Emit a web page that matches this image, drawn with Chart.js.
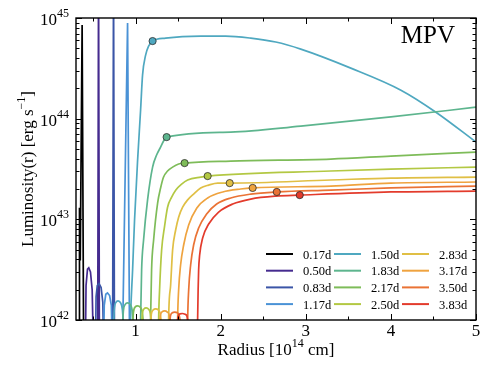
<!DOCTYPE html>
<html lang="en">
<head>
<meta charset="UTF-8">
<title>MPV luminosity profiles</title>
<script src="https://cdn.jsdelivr.net/npm/chart.js@4.4.1/dist/chart.umd.min.js"></script>
<style>
  html, body { margin: 0; padding: 0; background: #fff; }
  #wrap { width: 501px; height: 376px; }
</style>
</head>
<body>
<div id="wrap"><canvas id="lumChart" width="501" height="376"></canvas></div>
<script>
// radius in units of 1e14 cm, luminosity in erg/s
const labels = ['0.17d', '0.50d', '0.83d', '1.17d', '1.50d', '1.83d',
                '2.17d', '2.50d', '2.83d', '3.17d', '3.50d', '3.83d'];
const colors = ['#000000', '#452b8f', '#3b55a7', '#4a92d6', '#4fa8c0', '#5db58e',
                '#7ebc59', '#b3c843', '#e0bf45', '#efa33f', '#ea7335', '#e33b2c'];

const r017 = [0.338, 0.341, 0.350, 0.372, 0.390];
const L017 = [5e41, 1.3e43, 3.9e42, 8.5e44, 5e41];

const r050 = [0.410, 0.418, 0.435, 0.450, 0.470, 0.490, 0.505, 0.555, 0.565, 0.575];
const L050 = [5e41, 2.2e42, 3.2e42, 3.3e42, 3.0e42, 2.0e42, 5e41, 5e41, 3e45, 5e41];

const r083 = [0.528, 0.536, 0.550, 0.570, 0.595, 0.615, 0.625, 0.730, 0.741, 0.752];
const L083 = [5e41, 1.7e42, 2.2e42, 2.3e42, 2.1e42, 1.5e42, 5e41, 5e41, 3e45, 5e41];

const r117 = [0.623, 0.632, 0.650, 0.670, 0.695, 0.715, 0.728, 0.845, 0.906, 0.930];
const L117 = [5e41, 1.4e42, 1.8e42, 1.86e42, 1.75e42, 1.4e42, 5e41, 5e41, 8.9e44, 5e41];

const r150 = [0.741, 0.750, 0.770, 0.794, 0.824, 0.845, 0.859, 0.935, 0.941, 0.965, 0.988,
              1.024, 1.059, 1.082, 1.118, 1.153, 1.200, 1.353, 1.765, 2.059, 2.353, 2.647,
              2.941, 3.529, 4.118, 4.529, 5.000];
const L150 = [9e41, 1.27e42, 1.5e42, 1.55e42, 1.48e42, 1.27e42, 9e41, 5e41, 1e42, 3.14e42, 9.84e42,
              3.88e43, 1.22e44, 2.71e44, 4.28e44, 5.26e44, 5.9e44, 6.31e44, 6.61e44, 6.61e44, 6.31e44, 5.77e44,
              4.91e44, 3.18e44, 1.92e44, 1.16e44, 5.86e43];

const r183 = [0.847, 0.857, 0.879, 0.905, 0.937, 0.961, 0.976, 1.055, 1.059, 1.071, 1.094,
              1.141, 1.200, 1.247, 1.294, 1.329, 1.365, 2.118, 2.941, 4.000, 5.000];
const L183 = [9e41, 1.24e42, 1.43e42, 1.48e42, 1.42e42, 1.24e42, 9e41, 5e41, 1e42, 3.14e42, 6.23e42,
              1.56e43, 3.3e43, 4.35e43, 5.22e43, 6.0e43, 6.56e43, 7.36e43, 8.45e43, 1.04e44, 1.3e44];

const r217 = [0.965, 0.975, 0.997, 1.023, 1.055, 1.079, 1.094, 1.172, 1.176, 1.188, 1.212,
              1.259, 1.294, 1.329, 1.376, 1.435, 1.506, 1.576, 2.118, 3.294, 4.000, 5.000];
const L217 = [9e41, 1.19e42, 1.35e42, 1.38e42, 1.34e42, 1.19e42, 9e41, 5e41, 1e42, 3.14e42, 6.23e42,
              1.45e43, 2.05e43, 2.63e43, 3.02e43, 3.3e43, 3.54e43, 3.62e43, 3.79e43, 3.97e43, 4.25e43, 4.66e43];

const r250 = [1.071, 1.080, 1.100, 1.124, 1.153, 1.174, 1.188, 1.267, 1.271, 1.282, 1.306,
              1.341, 1.376, 1.424, 1.471, 1.541, 1.612, 1.765, 1.847, 3.294, 4.000, 5.000];
const L250 = [9e41, 1.16e42, 1.29e42, 1.32e42, 1.28e42, 1.16e42, 9e41, 5e41, 1e42, 1.99e42, 4.95e42,
              8.58e42, 1.32e43, 1.66e43, 1.95e43, 2.24e43, 2.46e43, 2.63e43, 2.69e43, 3.02e43, 3.16e43, 3.3e43];

const r283 = [1.176, 1.186, 1.208, 1.235, 1.267, 1.290, 1.306, 1.384, 1.388, 1.412, 1.435,
              1.471, 1.506, 1.553, 1.612, 1.682, 1.765, 1.859, 1.965, 2.106, 3.294, 4.000, 5.000];
const L283 = [9e41, 1.15e42, 1.26e42, 1.29e42, 1.26e42, 1.15e42, 9e41, 5e41, 1e42, 2.23e42, 4.95e42,
              7.83e42, 1.05e43, 1.32e43, 1.56e43, 1.78e43, 2.05e43, 2.19e43, 2.29e43, 2.29e43, 2.46e43, 2.57e43, 2.63e43];

const r317 = [1.282, 1.292, 1.314, 1.341, 1.373, 1.396, 1.412, 1.490, 1.494, 1.506, 1.529,
              1.565, 1.624, 1.718, 1.847, 2.024, 2.235, 2.376, 3.294, 4.000, 5.000];
const L317 = [9e41, 1.12e42, 1.21e42, 1.23e42, 1.20e42, 1.12e42, 9e41, 5e41, 1e42, 1.99e42, 3.52e42,
              5.56e42, 8.78e42, 1.29e43, 1.63e43, 1.87e43, 2.0e43, 2.05e43, 2.14e43, 2.29e43, 2.35e43];

const r350 = [1.400, 1.410, 1.432, 1.459, 1.491, 1.514, 1.530, 1.608, 1.612, 1.624, 1.647,
              1.682, 1.741, 1.835, 1.953, 2.118, 2.353, 2.659, 3.294, 4.000, 5.000];
const L350 = [9e41, 1.10e42, 1.18e42, 1.20e42, 1.18e42, 1.10e42, 9e41, 5e41, 1e42, 1.99e42, 3.52e42,
              5.56e42, 8.2e42, 1.13e43, 1.42e43, 1.63e43, 1.78e43, 1.87e43, 1.95e43, 2.05e43, 2.14e43];

const r383 = [1.490, 1.500, 1.522, 1.549, 1.581, 1.604, 1.620, 1.725, 1.729, 1.735, 1.741,
              1.753, 1.788, 1.859, 1.976, 2.141, 2.353, 2.647, 2.929, 4.000, 5.000];
const L383 = [9e41, 1.09e42, 1.15e42, 1.16e42, 1.14e42, 1.09e42, 9e41, 5e41, 1e42, 1.99e42, 3.14e42,
              4.42e42, 6.52e42, 8.98e42, 1.18e43, 1.42e43, 1.59e43, 1.70e43, 1.74e43, 1.87e43, 1.91e43];

// circle markers on the 1.50d .. 3.83d curves
const dotR = [1.200, 1.365, 1.576, 1.847, 2.106, 2.376, 2.659, 2.929];
const dotL = [5.9e44, 6.56e43, 3.62e43, 2.69e43, 2.29e43, 2.05e43, 1.87e43, 1.74e43];

const xTicks = [1, 2, 3, 4, 5];
const xMinor = [0.5, 1.5, 2.5, 3.5, 4.5];
const yExp = [42, 43, 44, 45];

const series = [[r017, L017], [r050, L050], [r083, L083], [r117, L117], [r150, L150], [r183, L183],
                [r217, L217], [r250, L250], [r283, L283], [r317, L317], [r350, L350], [r383, L383]];

const FONT = '"Liberation Serif", "Times New Roman", serif';

const datasets = series.map((s, i) => ({
    label: labels[i],
    data: s[0].map((r, j) => ({ x: r, y: s[1][j] })),
    showLine: true,
    borderColor: colors[i],
    borderWidth: 1.7,
    pointRadius: 0,
    // spikes stay straight, the later profiles are smooth curves
    cubicInterpolationMode: i >= 4 ? 'monotone' : 'default',
    tension: 0,
    clip: 0,
    order: 20 - i
}));
datasets.push({
    label: 'markers',
    data: dotR.map((r, j) => ({ x: r, y: dotL[j] })),
    showLine: false,
    pointRadius: 3.6,
    pointBackgroundColor: colors.slice(4),
    pointBorderColor: '#2b2b2b',
    pointBorderWidth: 0.8,
    order: 0
});

// draw "base" + raised "sup" pieces
function supText(ctx, x, y, parts, align) {
    let w = 0;
    parts.forEach(p => { ctx.font = p[1] + 'px ' + FONT; w += ctx.measureText(p[0]).width; });
    let cx = align === 'right' ? x - w : (align === 'center' ? x - w / 2 : x);
    parts.forEach(p => {
        ctx.font = p[1] + 'px ' + FONT;
        ctx.fillText(p[0], cx, y + p[2]);
        cx += ctx.measureText(p[0]).width;
    });
}

const framePlugin = {
    id: 'frame',
    afterDatasetsDraw(chart) {
        const { ctx, chartArea: a, scales } = chart;
        const xs = scales.x, ys = scales.y;
        ctx.save();
        ctx.strokeStyle = '#000';
        ctx.lineWidth = 1;
        const marks = (xv, yv, len) => {
            ctx.beginPath();
            xv.forEach(v => {
                const px = Math.round(xs.getPixelForValue(v)) + 0.5;
                ctx.moveTo(px, a.bottom); ctx.lineTo(px, a.bottom - len);
                ctx.moveTo(px, a.top); ctx.lineTo(px, a.top + len);
            });
            yv.forEach(v => {
                const py = Math.round(ys.getPixelForValue(v)) + 0.5;
                ctx.moveTo(a.left, py); ctx.lineTo(a.left + len, py);
                ctx.moveTo(a.right, py); ctx.lineTo(a.right - len, py);
            });
            ctx.stroke();
        };
        const yMinor = [];
        yExp.slice(0, -1).forEach(e => { for (let k = 2; k <= 9; k++) yMinor.push(k * Math.pow(10, e)); });
        marks(xTicks, yExp.map(e => Math.pow(10, e)), 6);
        marks(xMinor.filter(v => v > xs.min), yMinor, 3.5);
        ctx.lineWidth = 1.4;
        ctx.strokeRect(a.left, a.top, a.right - a.left, a.bottom - a.top);
        ctx.restore();
    },
    afterDraw(chart) {
        const { ctx, chartArea: a, scales } = chart;
        const xs = scales.x, ys = scales.y;
        ctx.save();
        ctx.fillStyle = '#000';
        ctx.textBaseline = 'alphabetic';
        ctx.textAlign = 'left';

        // y tick labels 10^n
        yExp.forEach(e => {
            const py = ys.getPixelForValue(Math.pow(10, e));
            supText(ctx, 69, py + 7, [['10', 17, 0], [String(e), 12, -8]], 'right');
        });
        // x tick labels
        xTicks.forEach(v => {
            supText(ctx, xs.getPixelForValue(v), 336, [[String(v), 17, 0]], 'center');
        });
        // axis titles
        const cx = (a.left + a.right) / 2;
        supText(ctx, cx, 355, [['Radius [10', 17, 0], ['14', 12, -8], [' cm]', 17, 0]], 'center');
        ctx.save();
        ctx.translate(33, (a.top + a.bottom) / 2);
        ctx.rotate(-Math.PI / 2);
        supText(ctx, 0, 0, [['Luminosity(r) [erg s', 17, 0], ['\u22121', 12, -8], [']', 17, 0]], 'center');
        ctx.restore();

        // panel label
        supText(ctx, 455, 43, [['MPV', 25, 0]], 'right');

        // legend: 3 columns x 4 rows, column-major
        labels.forEach((lab, i) => {
            const col = Math.floor(i / 4), row = i % 4;
            const ly = 254 + row * 16.7;
            const lx = 266 + col * 68;
            ctx.strokeStyle = colors[i];
            ctx.lineWidth = 2;
            ctx.beginPath();
            ctx.moveTo(lx, ly); ctx.lineTo(lx + 27, ly);
            ctx.stroke();
            supText(ctx, lx + 37, ly + 4.5, [[lab, 12.5, 0]], 'left');
        });
        ctx.restore();
    }
};

new Chart(document.getElementById('lumChart'), {
    type: 'scatter',
    data: { datasets },
    options: {
        responsive: false,
        animation: false,
        events: [],
        layout: { padding: { left: 76, right: 25, top: 18, bottom: 56 } },
        scales: {
            x: { type: 'linear', min: 0.3, max: 5, display: false },
            y: { type: 'logarithmic', min: 1e42, max: 1e45, display: false }
        },
        plugins: { legend: { display: false }, tooltip: { enabled: false } }
    },
    plugins: [framePlugin]
});
</script>
</body>
</html>
